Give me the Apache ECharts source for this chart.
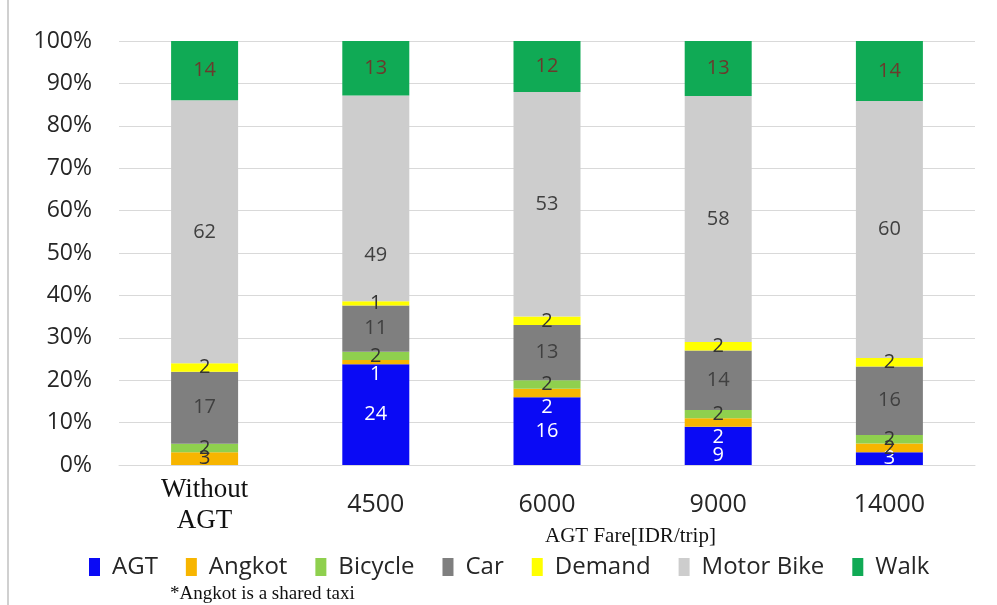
<!DOCTYPE html>
<html>
<head>
<meta charset="utf-8">
<script src="https://cdn.jsdelivr.net/npm/echarts@6/dist/echarts.min.js"></script>
<style>
  html, body { margin: 0; padding: 0; background: #ffffff; }
  #chart { width: 997px; height: 605px; }
</style>
</head>
<body>
<div id="chart"></div>
<script>
// Mode share (%) by AGT fare level
const categories = ['Without\nAGT', '4500', '6000', '9000', '14000'];
const agt       = [0, 24, 16, 9, 3];
const angkot    = [3, 1, 2, 2, 2];
const bicycle   = [2, 2, 2, 2, 2];
const car       = [17, 11, 13, 14, 16];
const demand    = [2, 1, 2, 2, 2];
const motorBike = [62, 49, 53, 58, 60];
const walk      = [14, 13, 12, 13, 14];
const yTickValues = [0, 10, 20, 30, 40, 50, 60, 70, 80, 90, 100];

const modes = [
  { name: 'AGT',        values: agt,       color: '#0a0af5', text: '#ffffff' },
  { name: 'Angkot',     values: angkot,    color: '#f7b500', text: '#333333' },
  { name: 'Bicycle',    values: bicycle,   color: '#8fd04e', text: '#333333' },
  { name: 'Car',        values: car,       color: '#7f7f7f', text: '#404040' },
  { name: 'Demand',     values: demand,    color: '#ffff00', text: '#333333' },
  { name: 'Motor Bike', values: motorBike, color: '#cdcdcd', text: '#404040' },
  { name: 'Walk',       values: walk,      color: '#10aa55', text: '#6b3a2c' }
];

// column totals, used to draw each column as a 100% stack
const totals = categories.map((_, i) => modes.reduce((s, m) => s + m.values[i], 0));

// hand-placed data labels (pixel offsets) where the centred label would collide
const labelOffsets = { 'Motor Bike': { 1: [0, 57] }, 'AGT': { 3: [0, 9] } };

const series = modes.map(m => ({
  name: m.name,
  type: 'bar',
  stack: 'share',
  barWidth: 67,
  itemStyle: { color: m.color },
  label: {
    show: true,
    position: 'inside',
    fontFamily: 'Open Sans',
    fontSize: 20,
    color: m.text,
    formatter: p => (p.data.raw ? String(p.data.raw) : '')
  },
  data: m.values.map((v, i) => {
    const item = { value: v / totals[i] * 100, raw: v };
    const off = labelOffsets[m.name] && labelOffsets[m.name][i];
    if (off) item.label = { offset: off };
    // Angkot label sits just below its thin segment, over the AGT block
    if (m.name === 'Angkot' && agt[i] >= 5) {
      item.label = { position: 'bottom', distance: 0, color: '#ffffff' };
    }
    return item;
  })
}));

const chart = echarts.init(document.getElementById('chart'), null, { renderer: 'canvas' });
chart.setOption({
  backgroundColor: '#ffffff',
  animation: false,
  grid: { left: 119, right: 22, top: 41, bottom: 140 },
  legend: {
    left: 84,
    top: 550,
    itemWidth: 11,
    itemHeight: 18,
    itemGap: 28,
    icon: 'rect',
    textStyle: { fontFamily: 'Open Sans', fontSize: 24, color: '#262626', padding: [0, 0, 0, 7] },
    data: modes.map(m => m.name)
  },
  xAxis: {
    type: 'category',
    data: categories,
    axisTick: { show: false },
    axisLine: { lineStyle: { color: '#d9d9d9' } },
    axisLabel: {
      interval: 0,
      margin: 40,
      verticalAlign: 'middle',
      fontFamily: 'Open Sans',
      fontSize: 25,
      color: '#262626',
      formatter: v => (v.indexOf('\n') >= 0 ? '{serif|' + v.split('\n').join('}\n{serif|') + '}' : v),
      rich: {
        serif: { fontFamily: 'Liberation Serif', fontSize: 27, lineHeight: 31, color: '#111111' }
      }
    }
  },
  yAxis: {
    type: 'value',
    min: yTickValues[0],
    max: yTickValues[yTickValues.length - 1],
    interval: yTickValues[1] - yTickValues[0],
    axisLine: { show: false },
    axisTick: { show: false },
    splitLine: { lineStyle: { color: '#d9d9d9' } },
    axisLabel: {
      margin: 27,
      fontFamily: 'Open Sans',
      fontSize: 23,
      color: '#262626',
      formatter: '{value}%'
    }
  },
  graphic: [
    { type: 'rect', left: 7, top: 0, shape: { width: 2, height: 605 }, style: { fill: '#d0d0d0' } },
    {
      type: 'text', left: 545, top: 526,
      style: { text: 'AGT Fare[IDR/trip]', fontFamily: 'Liberation Serif', fontSize: 21, fill: '#111111' }
    },
    {
      type: 'text', left: 170, top: 585,
      style: { text: '*Angkot is a shared taxi', fontFamily: 'Liberation Serif', fontSize: 19, fill: '#111111' }
    }
  ],
  series: series
});
</script>
</body>
</html>
